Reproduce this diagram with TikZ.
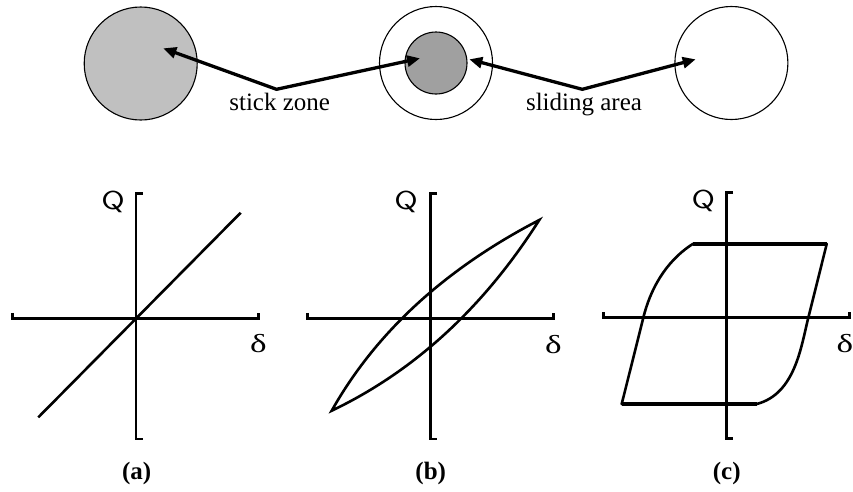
\documentclass[tikz,border=0pt]{standalone}
\usepackage{fontspec}
\setmainfont{Liberation Serif}
\usetikzlibrary{arrows.meta}
\definecolor{lightfill}{RGB}{192,192,192}
\definecolor{darkfill}{RGB}{160,160,160}
\newcommand\drawaxes{%
  \draw[axis] (-123.5,-5.5) -- (-123.5,0) -- (122.5,0) -- (122.5,-5.5);
  \draw[axis] (6.5,-125) -- (0,-125) -- (0,120.5) -- (6.5,120.5);}
\begin{document}
\begin{tikzpicture}[x=1pt,y=-1pt,
  disc/.style={circle,draw=black,line width=1.1pt,inner sep=0pt},
  axis/.style={line width=2.6pt,line cap=butt,line join=miter},
  curve/.style={line width=2.6pt},
  flat/.style={line width=4pt},
  pointer/.style={line width=3.3pt,{Triangle[length=13pt,width=11pt]}-{Triangle[length=13pt,width=11pt]}},
  lbl/.style={font=\fontsize{25}{30}\selectfont,anchor=base,inner sep=0pt},
  sub/.style={font=\bfseries\fontsize{25}{30}\selectfont,anchor=base,inner sep=0pt},
  qlab/.style={font=\sffamily\fontsize{26}{30}\selectfont,xscale=1.3,inner sep=0pt},
  dlab/.style={font=\fontsize{26}{30}\selectfont,xscale=1.35,inner sep=0pt}]
\useasboundingbox (0,0) rectangle (853,491);
% top row
\node[disc,fill=lightfill,minimum size=113pt] (c1) at (140.7,63.5) {};
\node[disc,minimum size=113pt] (c2) at (436,63) {};
\node[disc,fill=darkfill,minimum size=62pt] (c2i) at (436,63) {};
\node[disc,minimum size=113pt] (c3) at (731.4,63) {};
\coordinate (t1) at (163.3,48.3);
\coordinate (t2) at (420,58.3);
\coordinate (t3) at (469.3,59.3);
\coordinate (t4) at (695.7,59.3);
\coordinate (e1) at (276.5,89.3);
\coordinate (e2) at (582.3,89.3);
\draw[pointer] (t1) -- (e1) -- (t2);
\draw[pointer] (t3) -- (e2) -- (t4);
\node[lbl] (stick) at (279.7,110) {stick zone};
\node[lbl] (slide) at (584,110) {sliding area};
% plots
\coordinate (oa) at (136,318.3);
\coordinate (ob) at (430.7,318.3);
\coordinate (oc) at (726.7,317.7);
\begin{scope}[shift={(oa)}]
  \drawaxes
  \draw[curve] (-97.7,99) -- (104.7,-105.6);
\end{scope}
\begin{scope}[shift={(ob)}]
  \drawaxes
  \draw[curve] (-99,92.4) .. controls (-54.9,14.1) and (14.3,-49.4) .. (108.6,-98.3)
    .. controls (53,-10.8) and (-16.2,52.8) .. cycle;
\end{scope}
\begin{scope}[shift={(oc)}]
  \drawaxes
  \draw[curve,line join=round] (-34,-73.7) -- (100,-73.7) -- (81.6,0)
    .. controls (74.3,29.3) and (68.3,76.3) .. (30,86.3) -- (-105,86.3) -- (-83.4,0)
    .. controls (-76.7,-27.2) and (-62,-55.7) .. cycle;
  \draw[flat] (-34,-73.7) -- (100,-73.7);
  \draw[flat] (30,86.3) -- (-105,86.3);
\end{scope}
\node[qlab] (qa) at (113,202) {Q};
\node[qlab] (qb) at (406,202) {Q};
\node[qlab] (qc) at (703.3,201) {Q};
\node[dlab] (da) at (258.3,344) {δ};
\node[dlab] (db) at (553.3,344.5) {δ};
\node[dlab] (dc) at (845,344) {δ};
\node[sub] (la) at (136.7,479) {(a)};
\node[sub] (lb) at (430.7,479) {(b)};
\node[sub] (lc) at (726.7,479) {(c)};
\end{tikzpicture}
\end{document}
